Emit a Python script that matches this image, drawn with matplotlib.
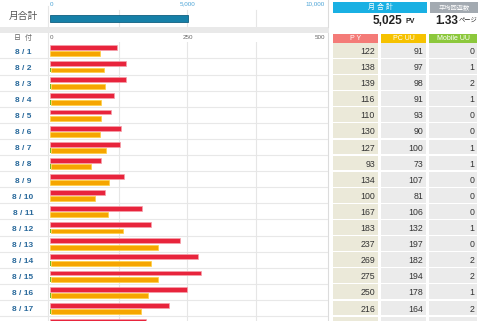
import matplotlib.pyplot as plt
from matplotlib.patches import Rectangle

plt.rcParams['font.family'] = ['Liberation Sans', 'Noto Sans CJK JP', 'DejaVu Sans']

# データ
days = ['8 / 1', '8 / 2', '8 / 3', '8 / 4', '8 / 5', '8 / 6', '8 / 7', '8 / 8', '8 / 9',
        '8 / 10', '8 / 11', '8 / 12', '8 / 13', '8 / 14', '8 / 15', '8 / 16', '8 / 17']
pv = [122, 138, 139, 116, 110, 130, 127, 93, 134, 100, 167, 183, 237, 269, 275, 250, 216, 175]
pc_uu = [91, 97, 98, 91, 93, 90, 100, 73, 107, 81, 106, 132, 197, 182, 194, 178, 164]
mobile_uu = [0, 1, 2, 1, 0, 0, 1, 1, 0, 0, 0, 1, 0, 2, 2, 1, 2]
month_total = 5025
month_ticks = [0, 5000, 10000]
month_ticklabels = ['0', '5,000', '10,000']
day_ticks = [0, 250, 500]
avg_pages = '1.33'

W, H = 480, 321
fig = plt.figure(figsize=(4.8, 3.21), dpi=100)
fig.patch.set_facecolor('white')

def px_axes(x, y, w, h, z=1):
    return fig.add_axes([x / W, 1 - (y + h) / H, w / W, h / H], zorder=z)

# 背景・枠（ピクセル座標）
bg = px_axes(0, 0, W, H, 0)
bg.set_xlim(0, W)
bg.set_ylim(H, 0)
bg.axis('off')
bg.add_patch(Rectangle((0, 27), 329, 6, color='#e9e9e9', lw=0))
bg.plot([328, 328], [0, 27], color='#dcdcdc', lw=0.8)
bg.plot([328, 328], [33, H], color='#dcdcdc', lw=0.8)
bg.plot([47.5, 47.5], [6, 27], color='#e6e6e6', lw=0.8)
bg.plot([47.5, 47.5], [33, H], color='#e6e6e6', lw=0.8)
bg.text(23, 16, '月合計', ha='center', va='center', fontsize=7, color='#555555')
bg.text(23, 38, '日  付', ha='center', va='center', fontsize=5, color='#666666')

# 右上のボックス
bg.add_patch(Rectangle((333, 2), 94, 11, color='#19b0e3', lw=0))
bg.text(380, 7.5, '月 合 計', ha='center', va='center', fontsize=5, color='white')
bg.text(402, 20.5, f'{month_total:,}', ha='right', va='center', fontsize=8.5,
        fontweight='bold', color='#222222')
bg.text(405, 21.5, 'PV', ha='left', va='center', fontsize=5, fontweight='bold', color='#222222')
bg.add_patch(Rectangle((430, 2), 48, 11, color='#a3aab1', lw=0))
bg.text(454, 7.5, '平均回遊数', ha='center', va='center', fontsize=4.5, color='white')
bg.text(458, 20.5, avg_pages, ha='right', va='center', fontsize=8.5, fontweight='bold',
        color='#222222')
bg.text(459, 21.5, 'ページ', ha='left', va='center', fontsize=4.5, color='#222222')

# 表ヘッダー
headers = [('P Y', 333, 45, '#f47b78'), ('PC UU', 381, 45, '#f6c200'),
           ('Mobile UU', 429, 48, '#8cc83c')]
for name, x0, w, c in headers:
    bg.add_patch(Rectangle((x0, 34), w, 9, color=c, lw=0))
    bg.text(x0 + w / 2, 38.5, name, ha='center', va='center', fontsize=5, color='white')

# 月合計バー
top = px_axes(50, 0, 275, 27, 2)
top.set_xlim(0, 10000)
top.set_ylim(27, 0)
top.barh([18.5], [month_total], height=7, color='#1680a8', ec='#0f5f80', lw=0.6, zorder=3)
for t in [2500, 5000, 7500]:
    top.plot([t, t], [10, 27], color='#e6e6e6', lw=0.8, zorder=1)
for t, lab in zip(month_ticks, month_ticklabels):
    ha = 'left' if t == 0 else ('right' if t == month_ticks[-1] else 'center')
    top.text(t, 4, lab, ha=ha, va='center', fontsize=4.5, color='#4aa3d6')
top.axis('off')

# 日別バー
row_h = 16.1
y0 = 42.3
nrows = (H - y0) / row_h
ax = px_axes(50, y0, 275, H - y0, 2)
ax.set_xlim(0, 500)
ax.set_ylim(nrows, 0)
ax.axis('off')
idx = list(range(len(days)))
for t in [125, 250, 375]:
    ax.axvline(t, color='#e6e6e6', lw=0.8, zorder=1)
ax.barh([i + 0.33 for i in range(len(pv))], pv, height=0.3, color='#e8243c', ec='#f5a0aa',
        lw=0.5, zorder=3)
ax.barh([i + 0.72 for i in idx], mobile_uu, height=0.3, color='#6cbf2a', lw=0, zorder=3)
ax.barh([i + 0.72 for i in idx], pc_uu, left=mobile_uu, height=0.3, color='#f6a500',
        ec='#ffd040', lw=0.5, zorder=3)
for t, lab in zip(day_ticks, [str(v) for v in day_ticks]):
    ha = 'left' if t == 0 else ('right' if t == day_ticks[-1] else 'center')
    ax.text(t, -0.27, lab, ha=ha, va='center', fontsize=4.5, color='#666666', clip_on=False)

# 日付ラベル・行区切り
lab_ax = px_axes(0, y0, 328, H - y0, 1)
lab_ax.set_xlim(0, 328)
lab_ax.set_ylim(nrows, 0)
lab_ax.axis('off')
for i, d in enumerate(days):
    lab_ax.text(23, i + 0.62, d, ha='center', va='center', fontsize=6, fontweight='bold',
                color='#2a6a9c')
    lab_ax.axhline(i + 1, color='#e8e8e8', lw=0.8)

# 表
tab = px_axes(333, y0, 145, H - y0, 2)
tab.set_xlim(333, 478)
tab.set_ylim(nrows, 0)
tab.axis('off')
cols = [(pv[:len(days)], 333, 45, '#ebe9d9'), (pc_uu, 381, 45, '#ebebeb'),
        (mobile_uu, 429, 48, '#ebebeb')]
for vals, x0, w, c in cols:
    for i in range(len(pv)):
        tab.add_patch(Rectangle((x0, i + 0.04), w, 0.92, color=c, lw=0))
    for i, v in enumerate(vals):
        tab.text(x0 + w - 3, i + 0.57, str(v), ha='right', va='center', fontsize=6.3,
                 color='#333333')

fig.savefig('out.png', dpi=100)
